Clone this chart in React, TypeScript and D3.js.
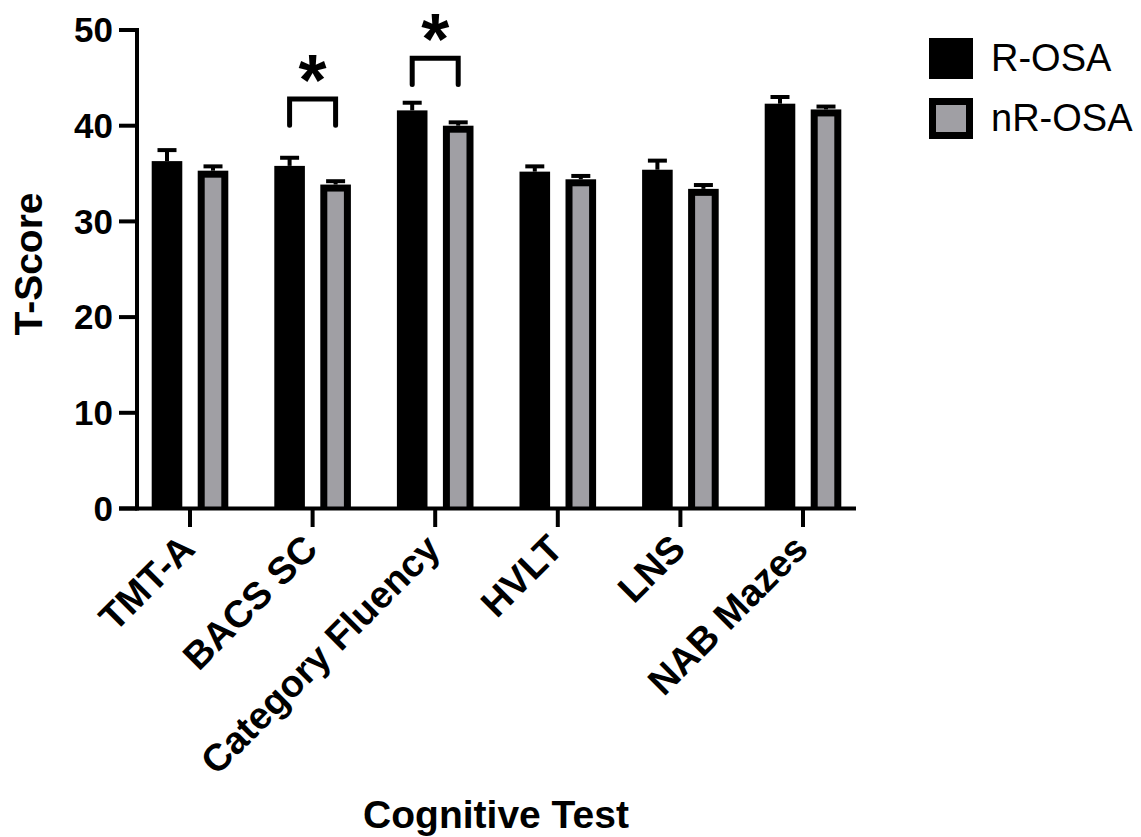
import React from "react";
import * as d3 from "d3";

// Cognitive test T-scores by group (mean ± SEM)
const categories = ["TMT-A", "BACS SC", "Category Fluency", "HVLT", "LNS", "NAB Mazes"];
const seriesNames = ["R-OSA", "nR-OSA"];
const rosaMean = [36.3, 35.8, 41.6, 35.2, 35.4, 42.3];
const rosaSem = [1.15, 0.85, 0.8, 0.55, 0.95, 0.7];
const nrosaMean = [35.3, 33.85, 40.0, 34.4, 33.4, 41.7];
const nrosaSem = [0.45, 0.35, 0.35, 0.35, 0.4, 0.3];
const yTicks = [0, 10, 20, 30, 40, 50];
// significant group differences: category and bracket height (T-score units)
const sigCategories = ["BACS SC", "Category Fluency"];
const sigLevels = [42.8, 47.05];

const W = 1141;
const H = 837;
const GRAY = "#a09fa4";
const FONT = "'Liberation Sans', Arial, Helvetica, sans-serif";

export default function App() {
  const x = d3.scaleBand<string>().domain(categories).range([128.7, 864.3]).paddingInner(0).paddingOuter(0);
  const xInner = d3.scaleBand<string>().domain(seriesNames).range([-38.3, 38.3]).paddingInner(0.335).paddingOuter(0);
  const y = d3.scaleLinear().domain([0, 50]).range([508.5, 30]);

  const bw = xInner.bandwidth();
  const border = 7;
  const axisLeft = 137;
  const axisStart = 119;
  const axisEnd = 856;
  const y0 = y(0);

  const groups = [
    { name: seriesNames[0], mean: rosaMean, sem: rosaSem },
    { name: seriesNames[1], mean: nrosaMean, sem: nrosaSem },
  ];

  const center = (c: string) => (x(c) ?? 0) + x.bandwidth() / 2;
  const barX = (c: string, s: string) => center(c) + (xInner(s) ?? 0);

  return (
    <svg width={W} height={H} style={{ position: "absolute", left: 0, top: 0, background: "#fff" }} fontFamily={FONT}>
      {/* bars */}
      {groups.map((g, gi) =>
        categories.map((c, i) => {
          const bx = barX(c, g.name);
          const top = y(g.mean[i]);
          const h = y0 - top;
          return (
            <g key={`${gi}-${i}`}>
              <rect x={bx} y={top} width={bw} height={h} fill="#000" />
              {gi === 1 && (
                <rect x={bx + border} y={top + border} width={bw - 2 * border} height={h - border} fill={GRAY} />
              )}
            </g>
          );
        })
      )}
      {/* error bars (upper only) */}
      {groups.map((g, gi) =>
        categories.map((c, i) => {
          const cx = barX(c, g.name) + bw / 2;
          const top = y(g.mean[i]);
          const eTop = y(g.mean[i] + g.sem[i]);
          return (
            <g key={`e${gi}-${i}`} stroke="#000" strokeWidth={4}>
              <line x1={cx} x2={cx} y1={top} y2={eTop} />
              <line x1={cx - 9.5} x2={cx + 9.5} y1={eTop} y2={eTop} />
            </g>
          );
        })
      )}
      {/* significance brackets */}
      {sigCategories.map((c, i) => {
        const x1 = barX(c, seriesNames[0]) + bw / 2;
        const x2 = barX(c, seriesNames[1]) + bw / 2;
        const yt = y(sigLevels[i]);
        const yb = y(sigLevels[i] - 2.75);
        return (
          <g key={`s${i}`}>
            <path
              d={`M${x1},${yb}L${x1},${yt}L${x2},${yt}L${x2},${yb}`}
              fill="none"
              stroke="#000"
              strokeWidth={5}
              strokeLinecap="round"
            />
            <text x={(x1 + x2) / 2} y={yt - 32 + 38} textAnchor="middle" fontSize={72} fontWeight="bold">
              *
            </text>
          </g>
        );
      })}
      {/* y axis */}
      <line x1={axisLeft} x2={axisLeft} y1={y(50) - 2} y2={y0 + 2} stroke="#000" strokeWidth={4} />
      {yTicks.map((t) => (
        <g key={`yt${t}`}>
          <line x1={axisStart} x2={axisLeft} y1={y(t)} y2={y(t)} stroke="#000" strokeWidth={4} />
          <text x={113} y={y(t)} dy="0.35em" textAnchor="end" fontSize={35} fontWeight="bold">
            {t}
          </text>
        </g>
      ))}
      {/* x axis */}
      <line x1={axisStart} x2={axisEnd} y1={y0} y2={y0} stroke="#000" strokeWidth={4} />
      {categories.map((c) => (
        <g key={`xt${c}`}>
          <line x1={center(c)} x2={center(c)} y1={y0} y2={527} stroke="#000" strokeWidth={4} />
          <text
            transform={`translate(${center(c) + 7},551) rotate(-45)`}
            textAnchor="end"
            fontSize={38}
            fontWeight="bold"
          >
            {c}
          </text>
        </g>
      ))}
      {/* axis titles */}
      <text transform="translate(42,264) rotate(-90)" textAnchor="middle" fontSize={39} fontWeight="bold">
        T-Score
      </text>
      <text x={496} y={828} textAnchor="middle" fontSize={39} fontWeight="bold">
        Cognitive Test
      </text>
      {/* legend */}
      {seriesNames.map((s, i) => {
        const ly = 38 + i * 60;
        return (
          <g key={`lg${s}`}>
            <rect x={929} y={ly} width={44} height={41} fill="#000" />
            {i === 1 && <rect x={929 + border} y={ly + border} width={44 - 2 * border} height={41 - 2 * border} fill={GRAY} />}
            <text x={991} y={ly + 33} fontSize={38}>
              {s}
            </text>
          </g>
        );
      })}
    </svg>
  );
}
